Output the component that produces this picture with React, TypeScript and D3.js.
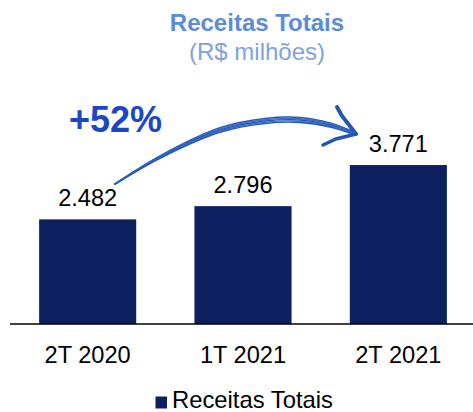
import React from "react";
import * as d3 from "d3";

const categories = ["2T 2020", "1T 2021", "2T 2021"];
const values = [2482, 2796, 3771];
const valueLabels = ["2.482", "2.796", "3.771"];
const seriesName = "Receitas Totais";
const growthLabel = "+52%";

const W = 473;
const H = 412;
const baseY = 324;
const navy = "#0c1f5e";
const font = "'Liberation Sans', Arial, sans-serif";

// hand-drawn arrow path through these points
const arrowPts: [number, number][] = [
  [115, 184],
  [160, 157],
  [220, 130],
  [265, 121],
  [300, 120],
  [330, 125],
  [356, 134],
];
// brush thickness along the arrow
const arrowWidth = [0.4, 2.5, 4.5, 5, 5, 4, 2.5];

const App = () => {
  const x = d3
    .scaleBand<string>()
    .domain(categories)
    .range([10, 476])
    .paddingInner(0.375)
    .paddingOuter(0.1875);
  const y = d3.scaleLinear().domain([0, 4000]).range([baseY, baseY - 168.6]);

  const line = d3.line().curve(d3.curveCatmullRom);
  const strands = [-1, -0.5, 0, 0.5, 1].map((k) =>
    line(arrowPts.map(([px, py], i) => [px, py + (k * arrowWidth[i]) / 2]))
  );

  return (
    <svg
      width={W}
      height={H}
      style={{ position: "absolute", left: 0, top: 0, fontFamily: font }}
    >
      <rect width={W} height={H} fill="#fff" />
      <text x={257} y={31} textAnchor="middle" fontSize={24} fontWeight="bold" fill="#5b8bd9">
        Receitas Totais
      </text>
      <text x={257} y={60} textAnchor="middle" fontSize={24} fill="#7ea2e2">
        (R$ milhões)
      </text>

      {categories.map((c, i) => (
        <g key={c}>
          <rect
            x={x(c)}
            y={y(values[i])}
            width={x.bandwidth()}
            height={baseY - y(values[i])}
            fill={navy}
          />
          <text
            x={x(c)! + x.bandwidth() / 2}
            y={y(values[i]) - 13}
            textAnchor="middle"
            fontSize={23.6}
            fill="#000"
          >
            {valueLabels[i]}
          </text>
          <text
            x={x(c)! + x.bandwidth() / 2}
            y={362.5}
            textAnchor="middle"
            fontSize={23.6}
            fill="#000"
          >
            {c}
          </text>
        </g>
      ))}
      <line x1={10} x2={473} y1={baseY} y2={baseY} stroke="#000" strokeWidth={1.5} />

      <text x={69} y={131.5} fontSize={36} fontWeight="bold" fill="#1b47c6">
        {growthLabel}
      </text>
      {strands.map((d, i) => (
        <path
          key={i}
          d={d!}
          fill="none"
          stroke={i % 2 ? "#3f70c8" : "#2458b6"}
          strokeWidth={1.4}
          strokeLinecap="round"
        />
      ))}
      <path
        d="M337,107 L342,116 L356,134"
        fill="none"
        stroke="#2458b6"
        strokeWidth={4}
        strokeLinecap="round"
      />
      <path
        d="M356,134 L336,139 L323,145"
        fill="none"
        stroke="#2458b6"
        strokeWidth={3.5}
        strokeLinecap="round"
      />

      <rect x={155.5} y={396.5} width={11.5} height={12} fill={navy} />
      <text x={172} y={408} fontSize={23.8} fill="#000">
        {seriesName}
      </text>
    </svg>
  );
};

export default App;
